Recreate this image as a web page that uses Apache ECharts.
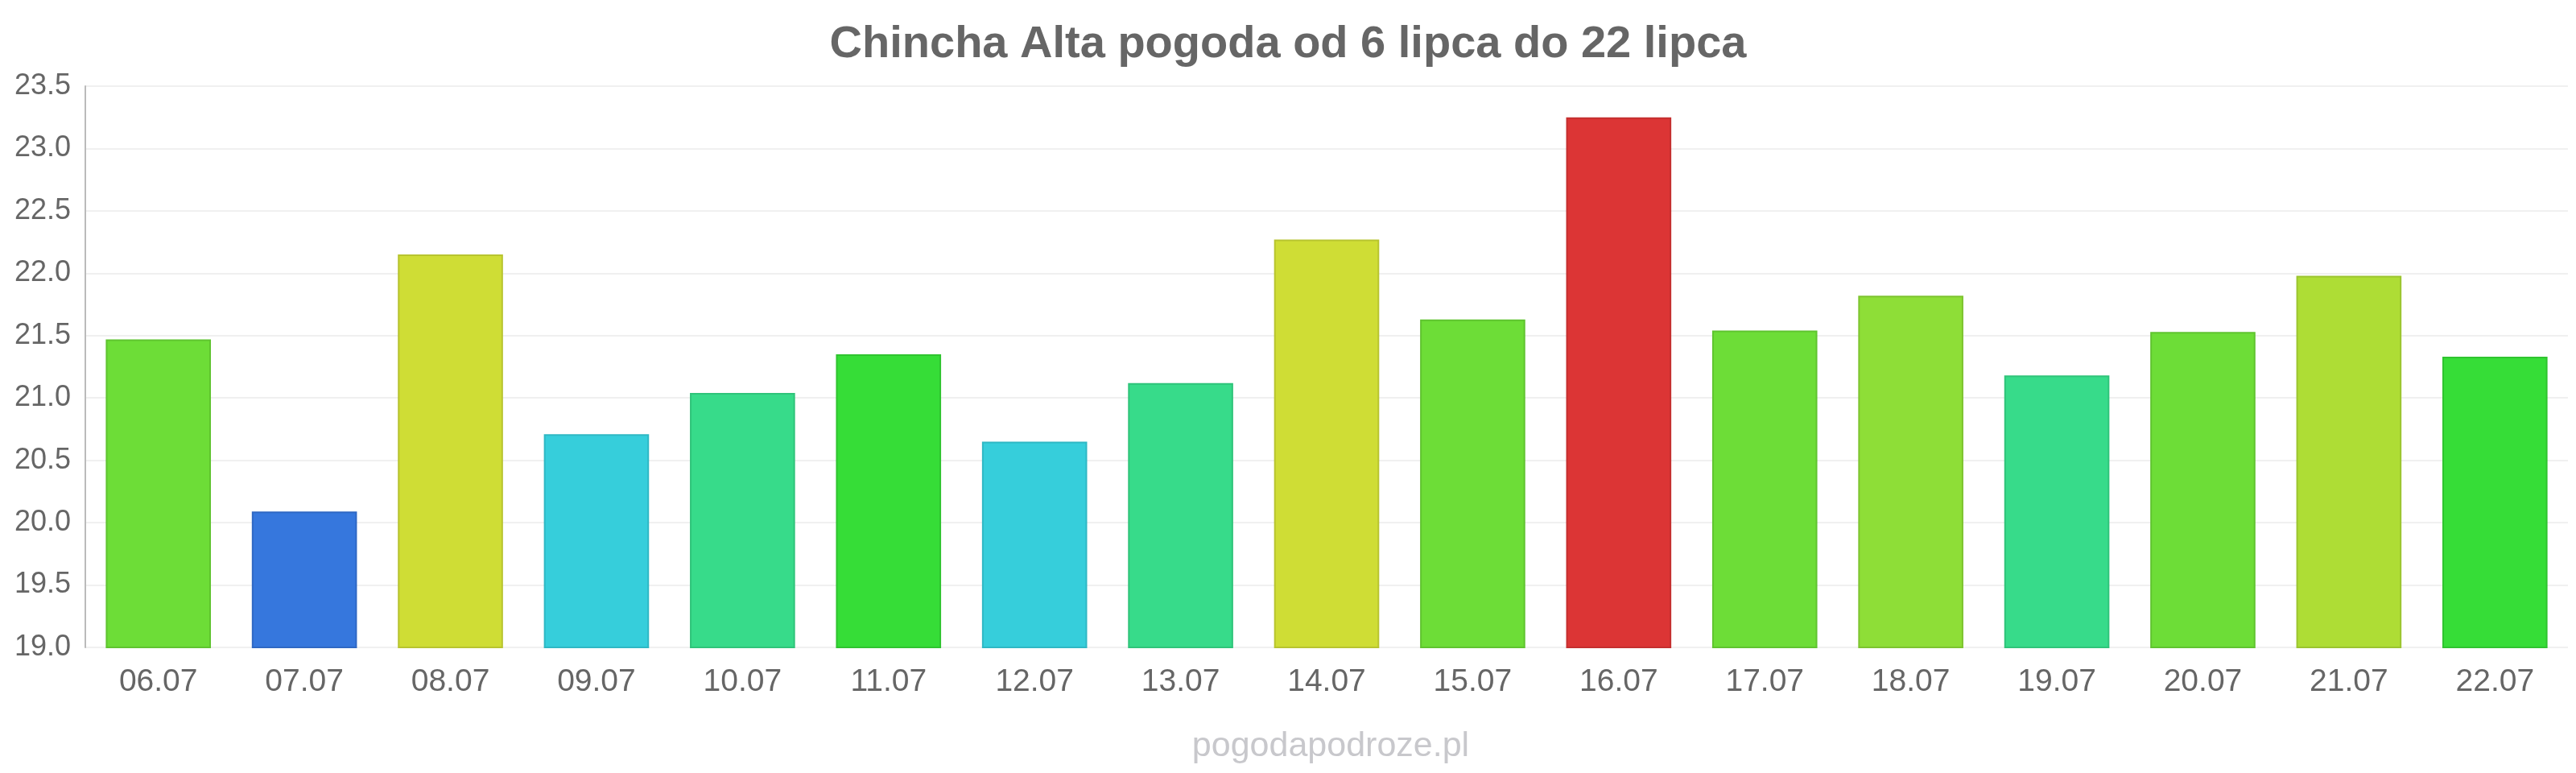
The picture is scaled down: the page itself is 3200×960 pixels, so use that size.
<!DOCTYPE html>
<html>
<head>
<meta charset="utf-8">
<script src="https://cdn.jsdelivr.net/npm/echarts@6/dist/echarts.min.js"></script>
<style>
  html, body { margin: 0; padding: 0; background: #fff; }
  #chart { width: 3200px; height: 960px; }
</style>
</head>
<body>
<div id="chart"></div>
<script>
const days = ['06.07', '07.07', '08.07', '09.07', '10.07', '11.07', '12.07', '13.07', '14.07',
  '15.07', '16.07', '17.07', '18.07', '19.07', '20.07', '21.07', '22.07']
const temps = [21.47, 20.09, 22.15, 20.71, 21.04, 21.35, 20.65, 21.12, 22.27,
  21.63, 23.25, 21.54, 21.82, 21.18, 21.53, 21.98, 21.33]
const yTicks = [19.0, 19.5, 20.0, 20.5, 21.0, 21.5, 22.0, 22.5, 23.0, 23.5]

// temperature colour scale: [upper bound, fill, border]
const scale = [
  [20.5, '#3677dd', '#2f68c4'],
  [21.0, '#36cedb', '#2fb8c4'],
  [21.25, '#37db8a', '#2fc47a'],
  [21.4, '#36dd37', '#2fc42f'],
  [21.75, '#6ddd37', '#5fc42f'],
  [21.9, '#8ede37', '#7dc42f'],
  [22.1, '#aedd35', '#9bc42f'],
  [22.6, '#cfdd35', '#b8c42f'],
  [99, '#dc3535', '#c42f2f']
]
const pick = v => scale.find(s => v < s[0])

const chart = echarts.init(document.getElementById('chart'))

const option = {
  animation: false,
  textStyle: { fontFamily: '"Liberation Sans", Arial, sans-serif' },
  title: [
    {
      text: 'Chincha Alta pogoda od 6 lipca do 22 lipca',
      left: 'center',
      top: 23,
      textStyle: { fontSize: 56, fontWeight: 'bold', color: '#666' }
    },
    {
      text: 'pogodapodroze.pl',
      left: 1648,
      textAlign: 'center',
      top: 901,
      textStyle: { fontSize: 43, fontWeight: 'normal', color: '#c8c8cc' }
    }
  ],
  grid: { left: 106, right: 10, top: 107, bottom: 156 },
  xAxis: {
    type: 'category',
    data: days,
    axisLine: { show: false },
    axisTick: { show: false },
    axisLabel: { fontSize: 39, color: '#666', margin: 24 }
  },
  yAxis: {
    type: 'value',
    min: yTicks[0],
    max: yTicks[yTicks.length - 1],
    interval: 0.5,
    axisLine: { show: true, lineStyle: { color: '#bbb', width: 2 } },
    axisTick: { show: false },
    splitLine: { lineStyle: { color: '#f0f0f0', width: 2 } },
    axisLabel: {
      fontSize: 36,
      color: '#666',
      margin: 18,
      formatter: v => v.toFixed(1)
    }
  },
  series: [{
    type: 'bar',
    barWidth: '72%',
    data: temps.map(v => {
      const c = pick(v)
      return { value: v, itemStyle: { color: c[1], borderColor: c[2], borderWidth: 2 } }
    })
  }]
}

chart.setOption(option)
</script>
</body>
</html>
